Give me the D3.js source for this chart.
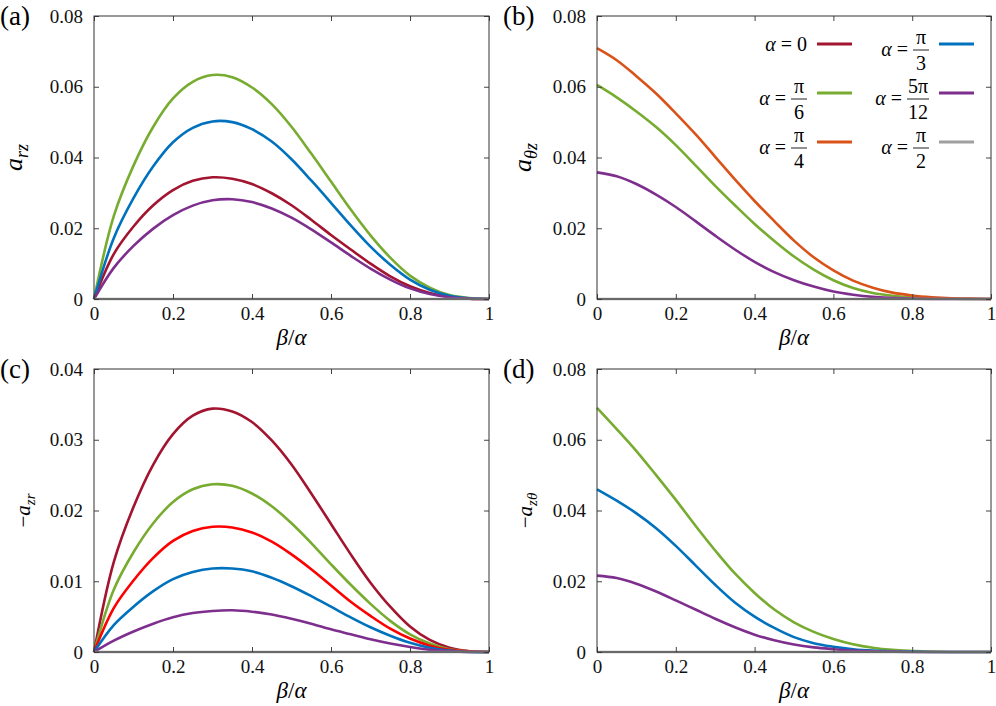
<!DOCTYPE html>
<html>
<meta charset="utf-8">
<style>
body { margin: 0; background: #fff; }
svg { font-family: "Liberation Serif", "DejaVu Serif", serif; }
.tick text { font-size: 19px; fill: #111; font-family: "Liberation Serif", serif; }
.tick line { stroke: #444; }
.frame { fill: none; stroke: #333; stroke-width: 1; }
.curve { fill: none; stroke-width: 2.6; stroke-linejoin: round; }
</style>
<body>
<svg width="996" height="706"></svg>
<script src="https://cdn.jsdelivr.net/npm/d3@7"></script>
<script>
// beta / alpha sample points
var betaOverAlpha = [0, 0.05, 0.1, 0.15, 0.2, 0.25, 0.3, 0.35, 0.4, 0.45, 0.5,
                     0.55, 0.6, 0.65, 0.7, 0.75, 0.8, 0.85, 0.9, 0.95, 1];

var xTicks = [0, 0.2, 0.4, 0.6, 0.8, 1];
var xTickLabels = ["0", "0.2", "0.4", "0.6", "0.8", "1"];
var yTicks08 = [0, 0.02, 0.04, 0.06, 0.08];
var yTickLabels08 = ["0", "0.02", "0.04", "0.06", "0.08"];
var yTicks04 = [0, 0.01, 0.02, 0.03, 0.04];
var yTickLabels04 = ["0", "0.01", "0.02", "0.03", "0.04"];

// (a) a_rz
var aRz_0     = [0, .0127, .0205, .0265, .0308, .0334, .0344, .0340, .0325, .0299, .0265, .0224, .0181, .0140, .0100, .0064, .0036, .0017, .0006, .0001, 0];
var aRz_pi6   = [0, .0234, .0377, .0487, .0567, .0614, .0633, .0627, .0598, .0551, .0487, .0411, .0332, .0253, .0180, .0117, .0066, .0032, .0011, .0003, 0];
var aRz_pi3   = [0, .0172, .0285, .0375, .0443, .0484, .0502, .0500, .0480, .0445, .0395, .0335, .0272, .0208, .0148, .0097, .0055, .0026, .0009, .0002, 0];
var aRz_5pi12 = [0, .0088, .0150, .0199, .0237, .0264, .0279, .0282, .0274, .0256, .0230, .0197, .0160, .0122, .0086, .0055, .0030, .0014, .0005, .0001, 0];

// (b) a_theta z
var aThz_pi6   = [.0605, .0570, .0530, .0486, .0435, .0378, .0320, .0265, .0212, .0164, .0120, .0083, .0053, .0031, .0017, .0009, .0004, .0002, .0001, 0, 0];
var aThz_pi4   = [.0709, .0675, .0630, .0581, .0525, .0466, .0402, .0338, .0277, .0220, .0165, .0118, .0081, .0052, .0032, .0018, .0010, .0005, .0002, .0001, 0];
var aThz_5pi12 = [.0358, .0347, .0325, .0295, .0260, .0220, .0179, .0140, .0105, .0076, .0053, .0035, .0021, .0012, .0006, .0003, .0001, 0, 0, 0, 0];

// (c) -a_zr
var aZr_0     = [0, .0127, .0205, .0265, .0308, .0334, .0344, .0340, .0325, .0299, .0265, .0224, .0181, .0138, .0098, .0064, .0036, .0017, .0006, .0001, 0];
var aZr_pi6   = [0, .0088, .0141, .0182, .0212, .0230, .0237, .0235, .0224, .0206, .0182, .0154, .0124, .0095, .0068, .0044, .0025, .0012, .0004, .0001, 0];
var aZr_pi4   = [0, .0062, .0101, .0133, .0157, .0171, .0177, .0176, .0169, .0156, .0138, .0117, .0094, .0071, .0051, .0033, .0019, .0009, .0003, .0001, 0];
var aZr_pi3   = [0, .0038, .0064, .0086, .0103, .0113, .0118, .0118, .0114, .0105, .0093, .0079, .0064, .0049, .0035, .0023, .0013, .0006, .0002, 0, 0];
var aZr_5pi12 = [0, .0016, .0029, .0040, .0049, .0055, .0058, .0059, .0057, .0053, .0047, .0040, .0032, .0025, .0018, .0012, .0007, .0003, .0001, 0, 0];

// (d) -a_z theta
var aZth_pi6   = [.0690, .0630, .0568, .0500, .0430, .0357, .0287, .0222, .0167, .0120, .0084, .0057, .0037, .0022, .0012, .0006, .0003, .0001, 0, 0, 0];
var aZth_pi3   = [.0460, .0428, .0392, .0350, .0300, .0245, .0190, .0140, .0100, .0068, .0042, .0025, .0015, .0008, .0004, .0002, .0001, 0, 0, 0, 0];
var aZth_5pi12 = [.0216, .0209, .0193, .0171, .0146, .0120, .0094, .0070, .0049, .0033, .0021, .0013, .0008, .0004, .0002, .0001, 0, 0, 0, 0, 0];

var zeroLine = [0, 0, 0, 0, 0, 0, 0, 0, 0, 0, 0, 0, 0, 0, 0, 0, 0, 0, 0, 0, 0];

// legend
var legendNum = ["0", "π", "π", "π", "5π", "π"];
var legendDen = ["", "6", "4", "3", "12", "2"];

var col = {
  a0: "#a2142f", pi6: "#77ac30", pi4: "#d95319",
  pi3: "#0072bd", p5pi12: "#7e2f8e", pi2: "#a0a0a0", red: "#ff0000"
};
var legendColors = [col.a0, col.pi6, col.pi4, col.pi3, col.p5pi12, col.pi2];

var svg = d3.select("svg");

var panels = [
  { tag: "(a)", left: 94, right: 489, top: 16, bottom: 299, ymax: 0.08,
    yt: yTicks08, ytl: yTickLabels08, ylab: ["", "a", "rz"], yfs: 26, ylx: 22, tagx: 0,
    series: [[aRz_0, col.a0], [aRz_pi6, col.pi6], [aRz_pi3, col.pi3], [aRz_5pi12, col.p5pi12], [zeroLine, col.pi2]] },
  { tag: "(b)", left: 597, right: 991, top: 16, bottom: 299, ymax: 0.08,
    yt: yTicks08, ytl: yTickLabels08, ylab: ["", "a", "θz"], yfs: 26, ylx: 531, tagx: 503,
    series: [[aThz_pi6, col.pi6], [aThz_pi4, col.pi4], [aThz_5pi12, col.p5pi12], [zeroLine, col.pi2]] },
  { tag: "(c)", left: 94, right: 489, top: 369, bottom: 652, ymax: 0.04,
    yt: yTicks04, ytl: yTickLabels04, ylab: ["−", "a", "zr"], yfs: 21, ylx: 30, tagx: 0,
    series: [[aZr_0, col.a0], [aZr_pi6, col.pi6], [aZr_pi4, col.red], [aZr_pi3, col.pi3], [aZr_5pi12, col.p5pi12], [zeroLine, col.pi2]] },
  { tag: "(d)", left: 597, right: 991, top: 369, bottom: 652, ymax: 0.08,
    yt: yTicks08, ytl: yTickLabels08, ylab: ["−", "a", "zθ"], yfs: 21, ylx: 532, tagx: 503,
    series: [[aZth_pi6, col.pi6], [aZth_pi3, col.pi3], [aZth_5pi12, col.p5pi12], [zeroLine, col.pi2]] }
];

panels.forEach(function(p) {
  var x = d3.scaleLinear().domain([0, 1]).range([p.left, p.right]);
  var y = d3.scaleLinear().domain([0, p.ymax]).range([p.bottom, p.top]);
  var g = svg.append("g");

  var line = d3.line()
      .x(function(d, i) { return x(betaOverAlpha[i]); })
      .y(function(d) { return y(d); })
      .curve(d3.curveCatmullRom.alpha(0.5));

  p.series.forEach(function(s) {
    g.append("path").attr("class", "curve")
      .attr("stroke", s[1])
      .attr("d", line(s[0]));
  });

  // axes, ticks inward
  g.append("g").attr("transform", "translate(0," + p.bottom + ")")
    .call(d3.axisBottom(x).tickValues(xTicks).tickSize(-5).tickPadding(8)
      .tickFormat(function(d, i) { return xTickLabels[i]; }));
  g.append("g").attr("transform", "translate(0," + p.top + ")")
    .call(d3.axisTop(x).tickValues(xTicks).tickSize(-5).tickFormat(""));
  g.append("g").attr("transform", "translate(" + p.left + ",0)")
    .call(d3.axisLeft(y).tickValues(p.yt).tickSize(-5).tickPadding(11)
      .tickFormat(function(d, i) { return p.ytl[i]; }));
  g.append("g").attr("transform", "translate(" + p.right + ",0)")
    .call(d3.axisRight(y).tickValues(p.yt).tickSize(-5).tickFormat(""));
  g.selectAll(".domain").remove();

  g.append("rect").attr("class", "frame")
    .attr("x", p.left).attr("y", p.top)
    .attr("width", p.right - p.left).attr("height", p.bottom - p.top);

  // x label
  var xl = g.append("text")
    .attr("x", (p.left + p.right) / 2).attr("y", p.bottom + 46)
    .attr("text-anchor", "middle").style("font-size", "23px");
  xl.append("tspan").style("font-style", "italic").text("β");
  xl.append("tspan").text("/");
  xl.append("tspan").style("font-style", "italic").text("α");

  // y label
  var yc = (p.top + p.bottom) / 2;
  var yl = g.append("text")
    .attr("transform", "translate(" + p.ylx + "," + yc + ") rotate(-90)")
    .attr("text-anchor", "middle").style("font-size", p.yfs + "px");
  if (p.ylab[0]) yl.append("tspan").text(p.ylab[0]);
  yl.append("tspan").style("font-style", "italic").text(p.ylab[1]);
  yl.append("tspan").style("font-style", "italic")
    .style("font-size", Math.round(p.yfs * 0.7) + "px")
    .attr("dy", p.yfs * 0.22).text(p.ylab[2]);

  // panel tag
  g.append("text").attr("x", p.tagx).attr("y", p.top + 9)
    .style("font-size", "27px").text(p.tag);
});

// legend inside panel (b)
var legRight = [807, 929];
var legRows = [44, 93, 142];
legendNum.forEach(function(num, i) {
  var c = Math.floor(i / 3), r = i % 3;
  var ly = legRows[r], rx = legRight[c];
  var lg = svg.append("g");
  lg.append("line")
    .attr("x1", rx + 10).attr("x2", rx + 45)
    .attr("y1", ly).attr("y2", ly)
    .attr("stroke", legendColors[i]).attr("stroke-width", 3);
  if (!legendDen[i]) {
    var t = lg.append("text").attr("x", rx).attr("y", ly + 7)
      .attr("text-anchor", "end").style("font-size", "20px");
    t.append("tspan").style("font-style", "italic").text("α");
    t.append("tspan").text(" = " + num);
  } else {
    var bw = legendDen[i].length > 1 ? 22 : 16;
    var by = ly + 6;
    var xc = rx - bw / 2;
    lg.append("line").attr("x1", rx - bw).attr("x2", rx)
      .attr("y1", by).attr("y2", by).attr("stroke", "#222").attr("stroke-width", 1);
    lg.append("text").attr("x", xc).attr("y", by - 6)
      .attr("text-anchor", "middle").style("font-size", "20px").text(num);
    lg.append("text").attr("x", xc).attr("y", by + 20)
      .attr("text-anchor", "middle").style("font-size", "20px").text(legendDen[i]);
    var t2 = lg.append("text").attr("x", rx - bw - 5).attr("y", by + 6)
      .attr("text-anchor", "end").style("font-size", "20px");
    t2.append("tspan").style("font-style", "italic").text("α");
    t2.append("tspan").text(" =");
  }
});
</script>
</body>
</html>
